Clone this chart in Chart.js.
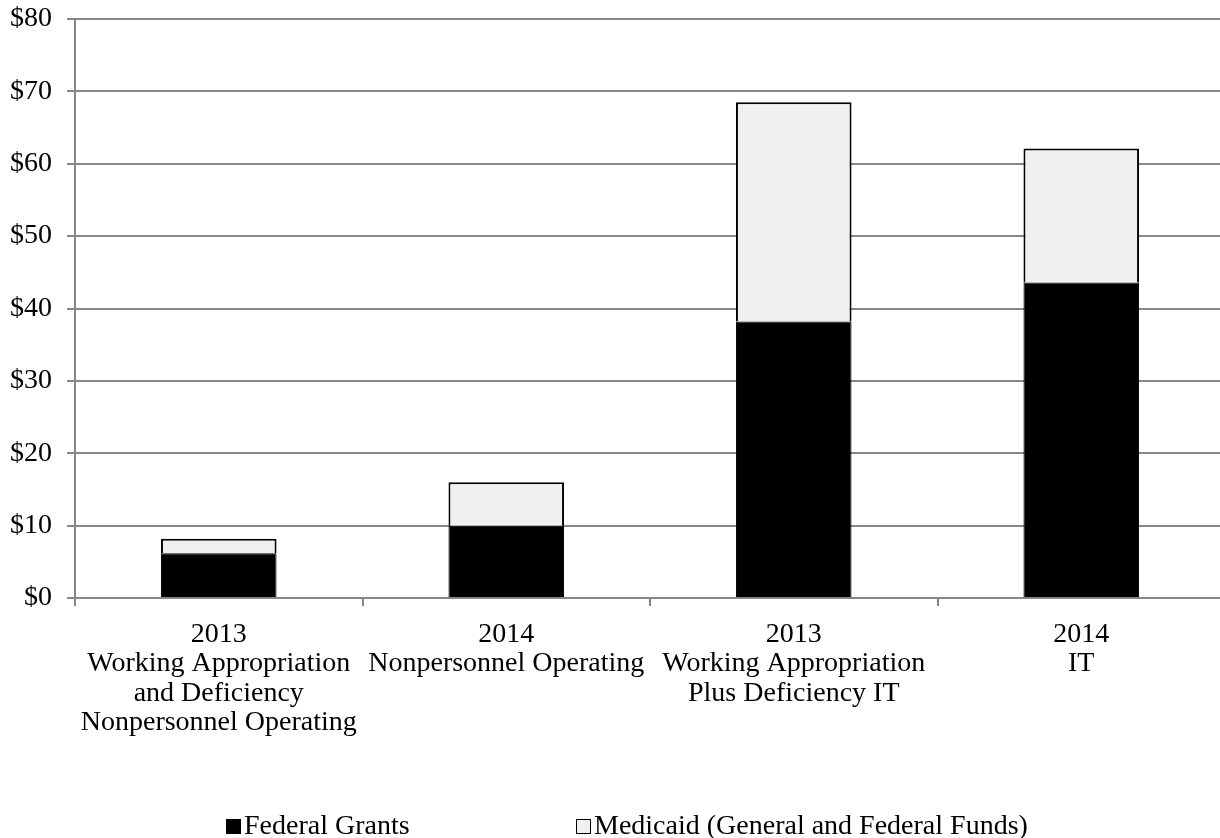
<!DOCTYPE html>
<html>
<head>
<meta charset="utf-8">
<script src="https://cdn.jsdelivr.net/npm/chart.js@4/dist/chart.umd.min.js"></script>
<style>
  html, body { margin: 0; padding: 0; background: #fff; overflow: hidden; }
  #wrap { width: 1235px; height: 838px; position: relative; }
</style>
</head>
<body>
<div id="wrap"><canvas id="chart"></canvas></div>
<script>
// Categories (multi-line axis labels)
const categories = [
  ["2013", "Working Appropriation", "and Deficiency", "Nonpersonnel Operating"],
  ["2014", "Nonpersonnel Operating"],
  ["2013", "Working Appropriation", "Plus Deficiency IT"],
  ["2014", "IT"]
];

// Series values ($ millions)
const federalGrants = [6.2, 10.0, 38.2, 43.6];
const medicaid = [2.0, 6.0, 30.3, 18.5];

// Series names
const seriesNames = ["Federal Grants", "Medicaid (General and Federal Funds)"];

// Value axis ticks
const yTicks = { min: 0, max: 80, step: 10 };

const FONT = "'Liberation Serif', 'Times New Roman', serif";
const GRID = "#878787";

// Legend drawn along the bottom of the canvas
const bottomLegend = {
  id: "bottomLegend",
  afterDraw(chart) {
    const ctx = chart.ctx;
    const items = [
      { x: 226, fill: "#000000" },
      { x: 576, fill: "#f0f0f0" }
    ];
    const yc = 826;
    ctx.save();
    ctx.font = "28px " + FONT;
    ctx.textBaseline = "middle";
    ctx.textAlign = "left";
    items.forEach((it, i) => {
      ctx.fillStyle = it.fill;
      ctx.fillRect(it.x, yc - 7, 15, 15);
      ctx.strokeStyle = "#000";
      ctx.lineWidth = 1;
      ctx.strokeRect(it.x + 0.5, yc - 6.5, 14, 14);
      ctx.fillStyle = "#000";
      ctx.fillText(seriesNames[i], it.x + 18, yc + 1);
    });
    ctx.restore();
  }
};

new Chart(document.getElementById("chart"), {
  type: "bar",
  data: {
    labels: categories,
    datasets: [
      {
        label: seriesNames[0],
        data: federalGrants,
        backgroundColor: "#000000",
        borderColor: "#000000",
        borderWidth: 1,
        categoryPercentage: 0.402,
        barPercentage: 1.0
      },
      {
        label: seriesNames[1],
        data: medicaid,
        backgroundColor: "#f0f0f0",
        borderColor: "#000000",
        borderWidth: 2,
        categoryPercentage: 0.402,
        barPercentage: 1.0
      }
    ]
  },
  plugins: [bottomLegend],
  options: {
    responsive: true,
    maintainAspectRatio: false,
    animation: false,
    layout: { padding: { left: 10, right: 10, top: 19, bottom: 100 } },
    plugins: {
      legend: { display: false },
      tooltip: { enabled: false }
    },
    scales: {
      x: {
        stacked: true,
        offset: true,
        grid: {
          offset: true,
          drawOnChartArea: false,
          drawTicks: true,
          tickLength: 8,
          color: GRID,
          lineWidth: 2
        },
        border: { color: GRID, width: 2 },
        ticks: {
          color: "#000",
          font: { family: FONT, size: 28, lineHeight: 1.05 },
          padding: 14,
          maxRotation: 0,
          autoSkip: false
        },
        afterFit(scale) { scale.height = 140; }
      },
      y: {
        stacked: true,
        min: yTicks.min,
        max: yTicks.max,
        grid: {
          color: GRID,
          lineWidth: 2,
          tickLength: 8
        },
        border: { color: GRID, width: 2 },
        ticks: {
          stepSize: yTicks.step,
          color: "#000",
          padding: 15,
          font: { family: FONT, size: 28, lineHeight: 1 },
          callback: (v) => "$" + v
        },
        afterFit(scale) {
          scale.width = 65;
          scale.paddingTop = 0;
          scale.paddingBottom = 0;
        }
      }
    }
  }
});
</script>
</body>
</html>
